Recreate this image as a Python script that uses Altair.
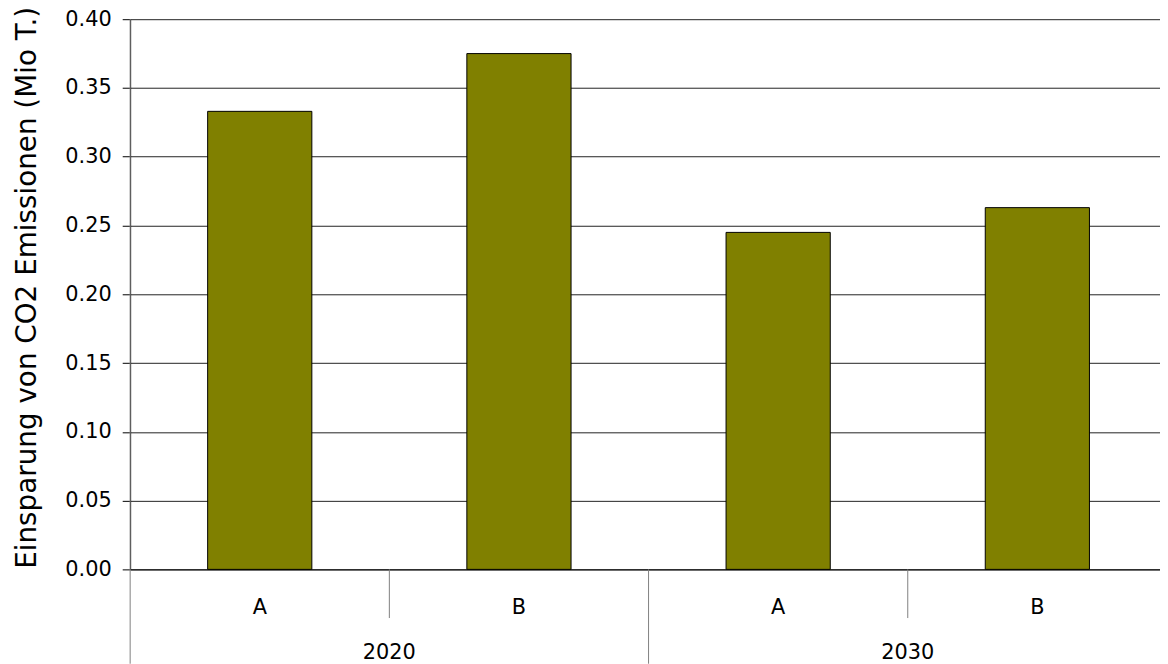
import altair as alt
import pandas as pd

years = ["2020", "2020", "2030", "2030"]
scenarios = ["A", "B", "A", "B"]
values = [0.333, 0.375, 0.245, 0.263]
keys = [f"{y} {s}" for y, s in zip(years, scenarios)]

year_labels = ["2020", "2030"]
year_anchor = ["2020 B", "2030 B"]

sep_keys = ["2020 A", "2020 B", "2030 A", "2030 B"]
sep_kind = ["edge", "short", "long", "short"]

FONT = "DejaVu Sans"
W, H = 1037, 554
RANGE_W = 1044
STEP = RANGE_W / 4

bars_df = pd.DataFrame({"key": keys, "value": values})
years_df = pd.DataFrame({"key": year_anchor, "label": year_labels})
sep_df = pd.DataFrame({"key": sep_keys, "kind": sep_kind})
sep_df["y0"] = [0 if k == "edge" else H for k in sep_kind]
sep_df["y1"] = [H + 49 if k == "short" else H + 95 for k in sep_kind]

xscale = alt.Scale(domain=keys, range=[0, RANGE_W], paddingInner=0.598, paddingOuter=0.299)
xgrid = alt.Scale(domain=keys, range=[0, RANGE_W], paddingInner=0, paddingOuter=0)

bars = alt.Chart(bars_df).mark_bar(color="#808000", stroke="black", strokeWidth=1).encode(
    x=alt.X("key:N", scale=xscale, sort=keys,
            axis=alt.Axis(title=None, labelExpr="substring(datum.value, 5)", ticks=False,
                          labelAngle=0, labelFont=FONT, labelFontSize=21, labelColor="black",
                          labelPadding=27, domainColor="black", domainWidth=1)),
    y=alt.Y("value:Q", scale=alt.Scale(domain=[0, 0.4]),
            axis=alt.Axis(title="Einsparung von CO2 Emissionen (Mio T.)", values=[i * 0.05 for i in range(9)],
                          format=".2f", labelFont=FONT, labelFontSize=21, labelColor="black",
                          titleFont=FONT, titleFontSize=28, titleFontWeight="normal", titleColor="black",
                          titlePadding=24, titleY=H / 2 - 7, tickSize=8, tickColor="black", labelPadding=11,
                          domainColor="black", gridColor="#222222", gridWidth=1)),
)

seps = alt.Chart(sep_df).mark_rule(color="#808080", strokeWidth=1).encode(
    x=alt.X("key:N", scale=xgrid, sort=keys, bandPosition=0, axis=None),
    y=alt.Y("y0:Q", scale=None),
    y2="y1:Q",
)

ytext = alt.Chart(years_df).mark_text(font=FONT, fontSize=21, color="black", baseline="middle",
                                      dx=-STEP / 2).encode(
    x=alt.X("key:N", scale=xgrid, sort=keys, axis=None),
    y=alt.value(638),
    text="label:N",
)

chart = alt.layer(bars, seps, ytext).resolve_scale(x="independent").properties(
    width=W, height=H,
    autosize=alt.AutoSizeParams(type="none"),
    padding={"left": 123, "top": 9, "right": 0, "bottom": 93},
).configure_view(stroke=None)

chart.save("out.html", embed_options={"renderer": "svg", "actions": False})
